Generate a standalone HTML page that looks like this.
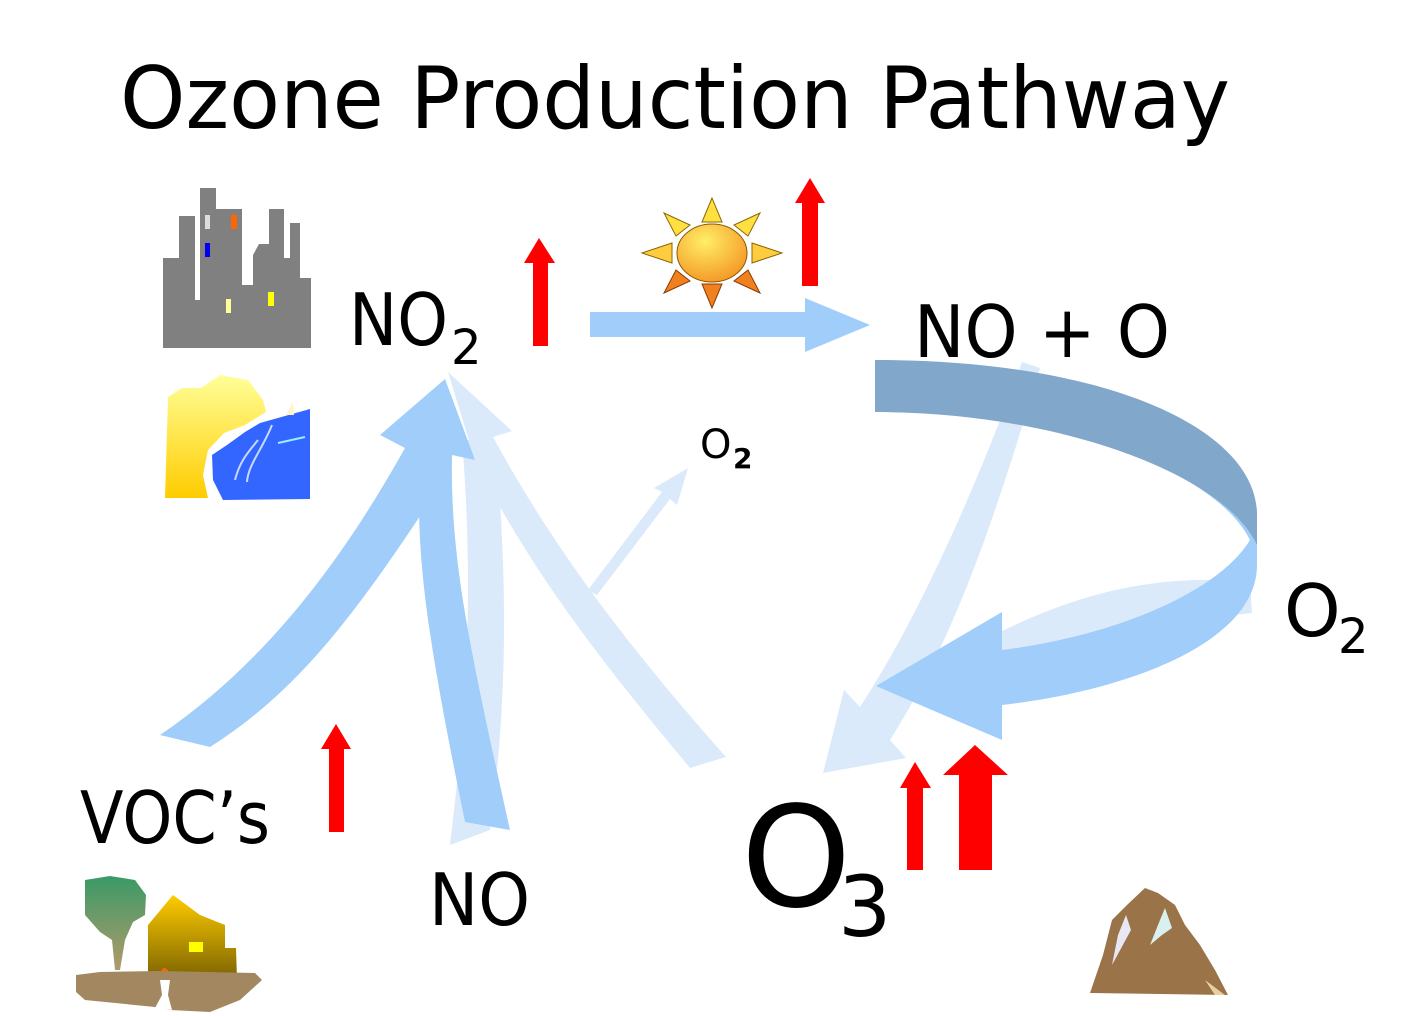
<!DOCTYPE html>
<html><head><meta charset="utf-8"><style>
html,body{margin:0;padding:0;background:#fff;}
svg{display:block;}
text{font-family:"DejaVu Sans","Liberation Sans",sans-serif;fill:#000;}
</style></head><body>
<svg width="1425" height="1016" viewBox="0 0 1425 1016" xmlns="http://www.w3.org/2000/svg">
<defs>
<linearGradient id="yel" x1="0" y1="0" x2="0" y2="1"><stop offset="0" stop-color="#ffff99"/><stop offset="1" stop-color="#ffcc00"/></linearGradient>
<linearGradient id="tree" x1="0" y1="0" x2="0" y2="1"><stop offset="0" stop-color="#3a9a66"/><stop offset="1" stop-color="#b09a6a"/></linearGradient>
<linearGradient id="house" x1="0" y1="0" x2="0" y2="1"><stop offset="0" stop-color="#ffcc00"/><stop offset="1" stop-color="#7a6200"/></linearGradient>
<radialGradient id="sun" cx="0.4" cy="0.3" r="0.8"><stop offset="0" stop-color="#ffee66"/><stop offset="1" stop-color="#f39020"/></radialGradient>
</defs>

<text x="120" y="128" font-size="86" textLength="1110" lengthAdjust="spacingAndGlyphs">Ozone Production Pathway</text>

<!-- city -->
<path d="M163,348 L163,258 L179,258 L179,216 L195,216 L195,300 L200,300 L200,188 L216,188 L216,209 L242,209 L242,285 L253,285 L253,255 L259,244 L269,244 L269,209 L284,209 L284,258 L290,258 L290,223 L300,223 L300,278 L311,278 L311,348 Z" fill="#808080"/>
<rect x="205" y="215" width="5" height="14" fill="#ddd"/>
<rect x="231" y="215" width="6" height="14" fill="#ff6600"/>
<rect x="205" y="243" width="5" height="14" fill="#0000ee"/>
<rect x="226" y="299" width="5" height="14" fill="#ffff99"/>
<rect x="268" y="292" width="6" height="14" fill="#ffff00"/>

<!-- candle/cliff icon -->
<path d="M165,498 L168,397 L182,388 L201,388 L220,375 L248,380 L263,400 L266,412 L245,425 L224,433 L208,450 L203,475 L208,498 Z" fill="url(#yel)"/>
<path d="M223,500 L213,480 L212,455 L227,445 L245,432 L260,423 L310,409 L310,499 Z" fill="#3366ff"/>
<path d="M286,415 L293,402 L294,415 Z" fill="#fff2cc"/>
<path d="M235,480 C240,460 250,450 258,440" stroke="#c8d8ff" stroke-width="2" fill="none"/>
<path d="M247,482 C248,465 262,450 272,425" stroke="#c8d8ff" stroke-width="2" fill="none"/>
<path d="M278,443 L305,437" stroke="#99eeff" stroke-width="2"/>

<!-- tree & house -->
<path d="M85,880 L110,876 L135,880 L146,895 L145,915 L133,922 L125,940 L120,970 L115,970 L112,940 L100,932 L85,915 Z" fill="url(#tree)"/>
<path d="M148,977 L148,925 L173,895 L200,915 L225,925 L225,948 L236,948 L237,980 Z" fill="url(#house)"/>
<rect x="189" y="942" width="14" height="10" fill="#ffff00"/>
<path d="M159,980 C160,965 168,963 171,980 Z" fill="#ff6600"/>
<path d="M76,975 L100,972 L160,971 L255,973 L262,980 L240,1000 L210,1012 L170,1010 L155,1007 L85,1000 L76,992 Z" fill="#a38761"/>
<path d="M160,980 L170,980 L168,995 L172,1010 L155,1008 L162,995 Z" fill="#fff"/>

<!-- mountain -->
<path d="M1090,993 L1103,955 L1112,920 L1127,905 L1145,888 L1158,893 L1175,905 L1185,925 L1200,945 L1215,970 L1228,995 Z" fill="#9a7448"/>
<path d="M1112,965 L1118,935 L1126,915 L1131,930 Z" fill="#e8e8f5"/>
<path d="M1150,945 L1160,920 L1165,908 L1172,928 L1162,935 Z" fill="#d8f0f0"/>
<path d="M1205,980 L1215,995 L1225,995 Z" fill="#e6d2a0"/>

<!-- sun -->
<g>
<polygon points="712,198 702,222 722,222" fill="#ffe040" stroke="#8a6a00" stroke-width="1"/>
<polygon points="712,308 702,284 722,284" fill="#f08020" stroke="#8a3a00" stroke-width="1"/>
<polygon points="642,253 672,243 672,263" fill="#ffcc40" stroke="#8a6a00" stroke-width="1"/>
<polygon points="782,253 752,243 752,263" fill="#ffcc40" stroke="#8a6a00" stroke-width="1"/>
<polygon points="664,213 690,225 676,236" fill="#ffe040" stroke="#8a6a00" stroke-width="1"/>
<polygon points="760,213 734,225 748,236" fill="#ffe040" stroke="#8a6a00" stroke-width="1"/>
<polygon points="664,293 690,281 676,270" fill="#f08020" stroke="#8a3a00" stroke-width="1"/>
<polygon points="760,293 734,281 748,270" fill="#f08020" stroke="#8a3a00" stroke-width="1"/>
<ellipse cx="712" cy="253" rx="35" ry="29" fill="url(#sun)" stroke="#8a5a00" stroke-width="1"/>
</g>

<!-- light arrows -->
<g fill="#daeafb">
<path d="M690,768 C600,660 530,570 475,460 L448,372 L512,431 L493,437 C560,560 640,660 726,757 Z"/>
<path d="M450,845 C465,720 475,600 462,440 L495,440 C510,600 505,720 490,830 Z"/>
<path d="M588,590 L662,492 L654,488 L688,468 L677,505 L670,499 L597,595 Z"/>
<path d="M1022,362 C990,450 930,600 860,707 L844,690 L823,773 L906,758 L890,740 C960,630 1000,500 1040,368 Z"/>
<path d="M1250,582 C1150,572 1070,598 1000,632 L1000,660 C1100,640 1200,618 1252,613 Z"/>
</g>

<!-- blue arrows -->
<g fill="#a0cdfa">
<path d="M160,735 C270,660 345,555 405,448 L380,435 L445,379 L475,460 L452,455 L450,470 C360,610 300,690 210,747 Z"/>
<path d="M465,822 C430,650 415,560 420,470 L452,455 C450,560 470,650 510,830 Z"/>
<path d="M590,312 L805,312 L805,298 L870,325 L805,352 L805,337 L590,337 Z"/>
<path d="M875,360 C1110,360 1257,430 1257,515 L1257,565 C1257,645 1120,692 1002,705 L1002,740 L876,686 L1002,612 L1002,650 C1120,635 1220,590 1250,540 C1215,470 1060,412 875,412 Z"/>
</g>
<path d="M875,360 C1110,360 1257,430 1257,515 L1257,545 C1225,475 1060,412 875,412 Z" fill="#81a7cb"/>

<!-- red arrows -->
<g fill="#ff0000">
<path d="M533,346 L533,263 L524,263 L539,238 L555,263 L548,263 L548,346 Z"/>
<path d="M802,286 L802,203 L795,203 L810,178 L825,203 L818,203 L818,286 Z"/>
<path d="M329,832 L329,749 L321,749 L336,724 L351,749 L344,749 L344,832 Z"/>
<path d="M907,870 L907,788 L900,788 L915,762 L931,788 L923,788 L923,870 Z"/>
<path d="M959,870 L959,775 L943,775 L975,745 L1008,775 L992,775 L992,870 Z"/>
</g>

<!-- labels -->
<text x="349" y="345" font-size="72" textLength="99" lengthAdjust="spacingAndGlyphs">NO</text>
<text x="451" y="364" font-size="48">2</text>
<text x="914" y="357" font-size="72" textLength="256" lengthAdjust="spacingAndGlyphs">NO + O</text>
<text x="700" y="458" font-size="40">O</text>
<text x="733" y="468" font-size="28" font-weight="bold">2</text>
<text x="1284" y="636" font-size="72">O</text>
<text x="1338" y="653" font-size="48">2</text>
<text x="80" y="843" font-size="72" textLength="190" lengthAdjust="spacingAndGlyphs">VOC’s</text>
<text x="429" y="925" font-size="72" textLength="101" lengthAdjust="spacingAndGlyphs">NO</text>
<text x="741" y="906" font-size="140">O</text>
<text x="838" y="936" font-size="84">3</text>
</svg>
</body></html>
